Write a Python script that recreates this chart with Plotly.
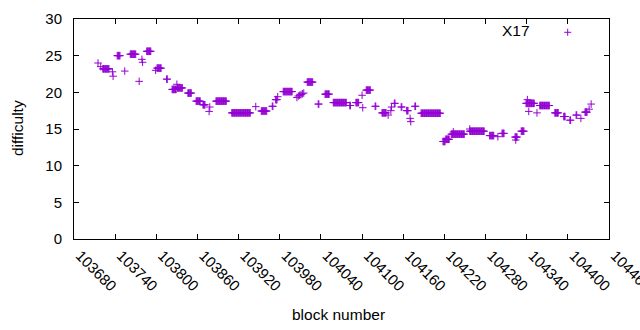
import numpy as np
import plotly.graph_objects as go

# Runs of (first block, last block, difficulty)
run_first = [103715, 103719, 103722, 103736, 103737, 103743, 103754, 103762, 103775, 103779,
             103780, 103786, 103799, 103801, 103815, 103823, 103830, 103831, 103846, 103858,
             103868, 103877, 103878, 103887, 103910, 103945, 103953, 103969, 103974, 103977,
             103985, 104005, 104007, 104009, 104011, 104013, 104015, 104020, 104036, 104046,
             104058, 104082, 104091, 104100, 104101, 104106, 104119, 104129, 104138, 104142,
             104143, 104147, 104157, 104165, 104170, 104171, 104177, 104186, 104218, 104222,
             104230, 104233, 104257, 104257, 104286, 104298, 104304, 104323, 104324, 104332,
             104339, 104341, 104343, 104355, 104359, 104381, 104394, 104403, 104412, 104419,
             104425, 104431, 104434]
run_last = [103715, 103719, 103731, 103736, 103737, 103747, 103754, 103770, 103775, 103779,
            103780, 103792, 103799, 103807, 103816, 103829, 103830, 103838, 103851, 103864,
            103871, 103877, 103878, 103902, 103937, 103945, 103961, 103970, 103976, 103977,
            103998, 104005, 104007, 104009, 104011, 104013, 104015, 104028, 104037, 104052,
            104077, 104083, 104095, 104100, 104101, 104112, 104120, 104135, 104138, 104142,
            104143, 104148, 104158, 104167, 104170, 104171, 104178, 104214, 104221, 104227,
            104249, 104233, 104278, 104257, 104292, 104298, 104307, 104326, 104324, 104336,
            104351, 104341, 104343, 104355, 104373, 104386, 104396, 104404, 104413, 104419,
            104428, 104431, 104434]
run_value = [24.0, 23.5, 23.2, 22.8, 22.2, 25.0, 22.9, 25.2, 21.5, 24.5,
             24.1, 25.6, 23.0, 23.3, 21.8, 20.4, 21.1, 20.6, 19.9, 18.8,
             18.3, 17.4, 18.0, 18.8, 17.2, 18.05, 17.45, 18.1, 19.0, 19.4,
             20.1, 19.3, 19.5, 19.6, 19.7, 19.8, 19.9, 21.4, 18.4, 19.75,
             18.6, 18.2, 18.6, 19.6, 17.9, 20.3, 18.1, 17.2, 16.9, 17.5,
             18.0, 18.5, 18.0, 17.5, 16.45, 16.0, 18.1, 17.15, 13.3, 13.6,
             14.3, 14.6, 14.7, 15.0, 14.1, 13.95, 14.4, 13.9, 13.5, 14.7,
             18.5, 19.0, 17.4, 17.2, 18.2, 17.2, 16.7, 16.2, 16.9, 16.45,
             17.3, 17.7, 18.4]

series_name = "X17"
x_title = "block number"
y_title = "difficulty"

blocks = np.concatenate([np.arange(a, b + 1) for a, b in zip(run_first, run_last)])
diffs = np.concatenate([np.full(b - a + 1, v) for a, b, v in zip(run_first, run_last, run_value)])

color = "#9400D3"
font = "Liberation Sans, Arial, sans-serif"

fig = go.Figure()
fig.add_trace(go.Scatter(
    x=blocks, y=diffs, mode="markers", name=series_name, showlegend=False,
    marker=dict(symbol="cross-thin", size=5.4, color=color,
                line=dict(color=color, width=1.0)),
))

axis_common = dict(showline=True, linecolor="black", linewidth=1, mirror="ticks",
                   ticks="inside", ticklen=5, tickcolor="black", showgrid=False,
                   zeroline=False, automargin=False, ticklabeloverflow="allow",
                   tickfont=dict(family=font, size=15, color="black"))

fig.update_xaxes(range=[103680, 104460], tick0=103680, dtick=60, tickangle=45,
                 tickformat="d", ticklabelstandoff=1, ticklabelshift=6, **axis_common)
fig.update_yaxes(range=[0, 30], tick0=0, dtick=5, ticklabelstandoff=8, **axis_common)

# axis titles
fig.add_annotation(text=x_title, xref="paper", yref="paper", x=0.4953, y=-0.345,
                   xanchor="center", yanchor="middle", showarrow=False,
                   font=dict(family=font, size=15.5, color="black"))
fig.add_annotation(text=y_title, xref="paper", yref="paper", x=-0.1065, y=0.5045,
                   xanchor="center", yanchor="middle", textangle=-90, showarrow=False,
                   font=dict(family=font, size=15.5, color="black"))

# gnuplot-style key: text then sample
fig.add_annotation(text=series_name, xref="paper", yref="paper", x=0.856, y=0.948,
                   xanchor="right", yanchor="middle", showarrow=False,
                   font=dict(family=font, size=15.5, color="black"))
kx, ky = 0.9228, 0.9395
fig.add_shape(type="line", xref="paper", yref="paper", xsizemode="pixel", ysizemode="pixel",
              xanchor=kx, yanchor=ky, x0=-3.5, x1=3.5, y0=0, y1=0, line=dict(color=color, width=1))
fig.add_shape(type="line", xref="paper", yref="paper", xsizemode="pixel", ysizemode="pixel",
              xanchor=kx, yanchor=ky, x0=0, x1=0, y0=-3.5, y1=3.5, line=dict(color=color, width=1))

fig.update_layout(width=640, height=330, margin=dict(l=74, r=31, t=19, b=91),
                  plot_bgcolor="white", paper_bgcolor="white", hovermode=False,
                  font=dict(family=font, size=14, color="black"))

# remove the page's default 8px body margin so the figure fills the window exactly
fig.write_html("out.html", config={"displayModeBar": False, "staticPlot": True},
               post_script="document.body.style.margin='0';document.body.style.overflow='hidden';")
